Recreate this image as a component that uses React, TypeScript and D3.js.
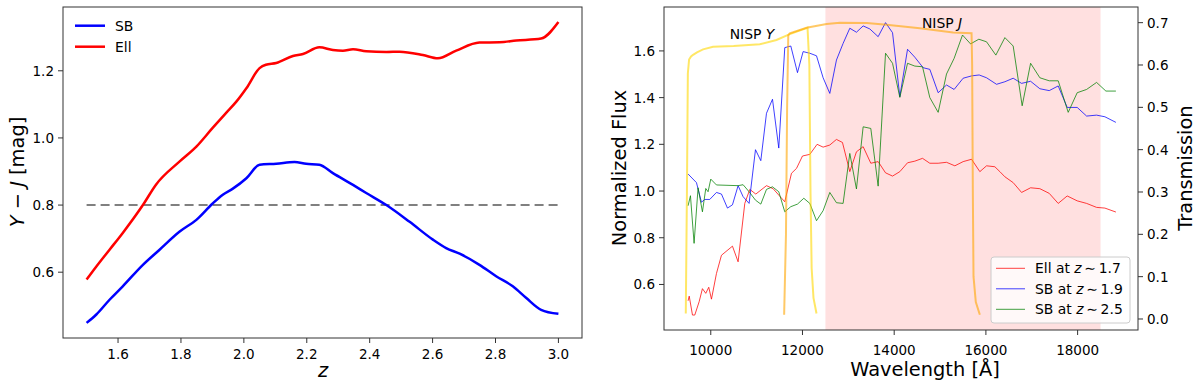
import React from 'react'
import * as d3 from 'd3'

// left panel: Y-J colour vs redshift
const zEll = [1.5, 1.531, 1.573, 1.615, 1.679, 1.72, 1.796, 1.849, 1.9, 1.943, 1.976, 2.008, 2.05, 2.07, 2.103, 2.156, 2.188, 2.24, 2.283, 2.315, 2.347, 2.389, 2.453, 2.495, 2.569, 2.617, 2.675, 2.749, 2.813, 2.866, 2.945, 3.0]
const yjEll = [0.578, 0.617, 0.667, 0.717, 0.8, 0.86, 0.93, 0.974, 1.029, 1.074, 1.108, 1.148, 1.208, 1.218, 1.223, 1.244, 1.25, 1.27, 1.262, 1.26, 1.264, 1.258, 1.256, 1.257, 1.247, 1.237, 1.26, 1.284, 1.285, 1.29, 1.296, 1.345]
const zSB = [1.5, 1.531, 1.573, 1.615, 1.679, 1.732, 1.796, 1.849, 1.9, 1.933, 1.965, 2.008, 2.05, 2.103, 2.161, 2.198, 2.24, 2.283, 2.347, 2.389, 2.453, 2.527, 2.601, 2.643, 2.686, 2.749, 2.802, 2.855, 2.898, 2.945, 3.0]
const yjSB = [0.449, 0.474, 0.518, 0.558, 0.622, 0.667, 0.721, 0.756, 0.804, 0.831, 0.849, 0.88, 0.92, 0.923, 0.928, 0.923, 0.92, 0.895, 0.86, 0.836, 0.8, 0.75, 0.697, 0.672, 0.655, 0.622, 0.588, 0.558, 0.523, 0.488, 0.476]
const cutZ = [1.5, 3.0]
const cutValue = 0.8
const zTicks = [1.6, 1.8, 2.0, 2.2, 2.4, 2.6, 2.8, 3.0]
const yjTicks = [0.6, 0.8, 1.0, 1.2]

// right panel: spectra
const wlEll = [9505, 9530, 9601, 9651, 9746, 9818, 9891, 9956, 10015, 10124, 10233, 10473, 10596, 10742, 10851, 10982, 11215, 11359, 11614, 11760, 11870, 12000, 12160, 12319, 12450, 12596, 12741, 12872, 13032, 13177, 13323, 13490, 13650, 13811, 13964, 14123, 14291, 14450, 14618, 14777, 14959, 15141, 15323, 15504, 15687, 15868, 16014, 16195, 16305, 16414, 16595, 16778, 16975, 17177, 17381, 17577, 17773, 17991, 18196, 18414, 18595, 18835]
const fluxEll = [0.53, 0.55, 0.469, 0.469, 0.526, 0.582, 0.562, 0.588, 0.537, 0.647, 0.725, 0.764, 0.697, 0.947, 1.007, 0.987, 1.023, 1.01, 0.954, 1.076, 1.097, 1.15, 1.157, 1.2, 1.188, 1.197, 1.221, 1.208, 1.083, 1.168, 1.19, 1.119, 1.126, 1.078, 1.064, 1.083, 1.121, 1.128, 1.14, 1.119, 1.119, 1.123, 1.108, 1.126, 1.136, 1.083, 1.108, 1.104, 1.083, 1.061, 1.036, 0.994, 1.014, 1.01, 0.99, 0.947, 0.979, 0.958, 0.947, 0.93, 0.927, 0.91]
const wlSB19 = [9505, 9688, 9797, 9869, 9978, 10124, 10233, 10364, 10473, 10596, 10705, 10836, 10975, 11091, 11215, 11346, 11483, 11614, 11745, 11891, 12014, 12160, 12306, 12450, 12596, 12741, 12886, 13032, 13177, 13323, 13469, 13650, 13811, 13964, 14123, 14291, 14450, 14632, 14777, 14959, 15141, 15307, 15504, 15687, 15853, 16014, 16232, 16414, 16595, 16778, 16975, 17177, 17381, 17577, 17773, 17991, 18196, 18414, 18595, 18835]
const fluxSB19 = [1.073, 1.036, 0.952, 0.964, 0.964, 0.994, 0.987, 0.927, 0.941, 1.023, 0.976, 0.947, 1.177, 1.13, 1.333, 1.393, 1.184, 1.614, 1.621, 1.507, 1.597, 1.59, 1.579, 1.485, 1.418, 1.561, 1.632, 1.697, 1.68, 1.707, 1.694, 1.661, 1.721, 1.678, 1.404, 1.607, 1.573, 1.528, 1.521, 1.421, 1.454, 1.435, 1.483, 1.493, 1.497, 1.485, 1.457, 1.468, 1.483, 1.461, 1.47, 1.438, 1.43, 1.45, 1.358, 1.358, 1.321, 1.325, 1.318, 1.294]
const wlSB25 = [9505, 9557, 9636, 9723, 9818, 9891, 9941, 10000, 10124, 10596, 10705, 10836, 10975, 11091, 11215, 11346, 11483, 11614, 11745, 11891, 12029, 12160, 12306, 12450, 12596, 12741, 12886, 13032, 13177, 13323, 13490, 13650, 13811, 13964, 14123, 14291, 14450, 14618, 14777, 14959, 15141, 15307, 15490, 15665, 15846, 16014, 16217, 16414, 16595, 16791, 16975, 17177, 17381, 17577, 17795, 17991, 18196, 18414, 18617, 18835]
const fluxSB25 = [0.937, 0.98, 0.776, 1.014, 0.911, 1.011, 0.997, 1.051, 1.026, 1.023, 1.027, 0.997, 0.961, 0.944, 1.007, 1.018, 0.997, 0.911, 0.933, 0.944, 0.969, 0.947, 0.873, 0.916, 0.994, 0.95, 0.947, 1.161, 1.009, 1.275, 1.268, 1.021, 1.59, 1.547, 1.401, 1.547, 1.535, 1.532, 1.4, 1.337, 1.501, 1.568, 1.668, 1.63, 1.65, 1.639, 1.582, 1.657, 1.621, 1.365, 1.547, 1.485, 1.472, 1.472, 1.337, 1.421, 1.435, 1.465, 1.428, 1.428]

// NISP filter transmissions
const wlY = [9455, 9480, 9500, 9527, 9570, 9614, 9700, 9832, 10050, 10500, 11069, 11433, 11723, 12088, 12110, 12150, 12175, 12200, 12240, 12306]
const trY = [0.013, 0.3, 0.58, 0.613, 0.62, 0.624, 0.63, 0.637, 0.643, 0.645, 0.649, 0.659, 0.673, 0.687, 0.688, 0.6, 0.3, 0.12, 0.05, 0.013]
const wlJ = [11600, 11640, 11665, 11690, 11723, 12088, 12524, 12814, 13400, 13833, 14559, 15286, 15687, 15700, 15715, 15730, 15780, 15868]
const trJ = [0.01, 0.2, 0.5, 0.67, 0.675, 0.688, 0.697, 0.7, 0.699, 0.695, 0.687, 0.677, 0.675, 0.6, 0.3, 0.1, 0.04, 0.01]
const bandJ = [12500, 18500]
const wlTicks = [10000, 12000, 14000, 16000, 18000]
const fluxTicks = [0.6, 0.8, 1.0, 1.2, 1.4, 1.6]
const trTicks = [0, 0.1, 0.2, 0.3, 0.4, 0.5, 0.6, 0.7]

const FONT = 'DejaVu Sans, sans-serif'

export default function App() {
  // left axes
  const xz = d3.scaleLinear().domain([1.425, 3.075]).range([63, 582])
  const yc = d3.scaleLinear().domain([0.404, 1.39]).range([338, 7])
  // right axes (twin y)
  const xw = d3.scaleLinear().domain([8980, 19317]).range([664, 1138])
  const yf = d3.scaleLinear().domain([0.405, 1.788]).range([330, 7])
  const yt = d3.scaleLinear().domain([-0.026, 0.737]).range([330, 7])

  const smooth = d3.line<number>().curve(d3.curveMonotoneX)
  const lineZ = (zs: number[], vs: number[]) =>
    smooth.x((_, i) => xz(zs[i])).y((_, i) => yc(vs[i]))(vs) || ''
  const lineF = (ws: number[], vs: number[]) =>
    d3.line<number>().x((_, i) => xw(ws[i])).y((_, i) => yf(vs[i]))(vs) || ''
  const lineT = (ws: number[], vs: number[]) =>
    d3.line<number>().x((_, i) => xw(ws[i])).y((_, i) => yt(vs[i]))(vs) || ''

  const tickFmt1 = d3.format('.1f')

  return (
    <svg width={1200} height={382} style={{ position: 'fixed', left: 0, top: 0, fontFamily: FONT }}>
      <defs>
        <clipPath id="clipR">
          <rect x={664} y={7} width={474} height={323} />
        </clipPath>
      </defs>
      <rect width={1200} height={382} fill="white" />

      {/* ---------- left panel ---------- */}
      <line x1={xz(cutZ[0])} x2={xz(cutZ[1])} y1={yc(cutValue)} y2={yc(cutValue)}
        stroke="#808080" strokeWidth={2} strokeDasharray="9,5" />
      <path d={lineZ(zSB, yjSB)} fill="none" stroke="blue" strokeWidth={2.5} />
      <path d={lineZ(zEll, yjEll)} fill="none" stroke="red" strokeWidth={2.5} />
      <rect x={63} y={7} width={519} height={331} fill="none" stroke="#333" strokeWidth={1} />
      {zTicks.map(t => (
        <g key={'zx' + t}>
          <line x1={xz(t)} x2={xz(t)} y1={338} y2={343} stroke="#333" />
          <text x={xz(t)} y={359} textAnchor="middle" fontSize={13.5}>{tickFmt1(t)}</text>
        </g>
      ))}
      {yjTicks.map(t => (
        <g key={'zy' + t}>
          <line x1={58} x2={63} y1={yc(t)} y2={yc(t)} stroke="#333" />
          <text x={54} y={yc(t) + 5} textAnchor="end" fontSize={13.5}>{tickFmt1(t)}</text>
        </g>
      ))}
      <text x={323} y={377} textAnchor="middle" fontSize={19.4} fontStyle="italic">z</text>
      <text transform="translate(24,172) rotate(-90)" textAnchor="middle" fontSize={19.4}>
        <tspan fontStyle="italic">Y</tspan> − <tspan fontStyle="italic">J</tspan> [mag]
      </text>
      {/* left legend, no frame */}
      <line x1={75} x2={105} y1={25.7} y2={25.7} stroke="blue" strokeWidth={2.5} />
      <text x={115} y={30.5} fontSize={13.9}>SB</text>
      <line x1={75} x2={105} y1={46.7} y2={46.7} stroke="red" strokeWidth={2.5} />
      <text x={115} y={51.5} fontSize={13.9}>Ell</text>

      {/* ---------- right panel ---------- */}
      <rect x={xw(bandJ[0])} y={7} width={xw(bandJ[1]) - xw(bandJ[0])} height={323} fill="#ffe0e0" />
      <g clipPath="url(#clipR)" fill="none" strokeWidth={1} strokeOpacity={0.75}>
        <path d={lineF(wlEll, fluxEll)} stroke="red" />
        <path d={lineF(wlSB19, fluxSB19)} stroke="blue" />
        <path d={lineF(wlSB25, fluxSB25)} stroke="green" />
      </g>
      <g clipPath="url(#clipR)" fill="none" strokeWidth={2}>
        <path d={lineT(wlY, trY)} stroke="#ffd700" strokeOpacity={0.6} />
        <path d={lineT(wlJ, trJ)} stroke="#ffa500" strokeOpacity={0.6} />
      </g>
      <text x={752} y={39} textAnchor="middle" fontSize={13.9}>
        NISP <tspan fontStyle="italic">Y</tspan>
      </text>
      <text x={942} y={28} textAnchor="middle" fontSize={13.9}>
        NISP <tspan fontStyle="italic">J</tspan>
      </text>
      <rect x={664} y={7} width={474} height={323} fill="none" stroke="#333" strokeWidth={1} />
      {wlTicks.map(t => (
        <g key={'wx' + t}>
          <line x1={xw(t)} x2={xw(t)} y1={330} y2={335} stroke="#333" />
          <text x={xw(t)} y={355} textAnchor="middle" fontSize={13.5}>{t}</text>
        </g>
      ))}
      {fluxTicks.map(t => (
        <g key={'fy' + t}>
          <line x1={659} x2={664} y1={yf(t)} y2={yf(t)} stroke="#333" />
          <text x={655} y={yf(t) + 5} textAnchor="end" fontSize={13.5}>{tickFmt1(t)}</text>
        </g>
      ))}
      {trTicks.map(t => (
        <g key={'ty' + t}>
          <line x1={1138} x2={1143} y1={yt(t)} y2={yt(t)} stroke="#333" />
          <text x={1147} y={yt(t) + 5} textAnchor="start" fontSize={13.5}>{tickFmt1(t)}</text>
        </g>
      ))}
      <text x={925} y={376} textAnchor="middle" fontSize={19.4}>Wavelength [Å]</text>
      <text transform="translate(626,168) rotate(-90)" textAnchor="middle" fontSize={19.4}>Normalized Flux</text>
      <text transform="translate(1192,168) rotate(-90)" textAnchor="middle" fontSize={19.4}>Transmission</text>

      {/* right legend */}
      <rect x={991} y={257} width={139} height={66} rx={3} fill="white" fillOpacity={0.8} stroke="#ccc" />
      {[
        { c: 'red', a: 'Ell at ', b: '1.7' },
        { c: 'blue', a: 'SB at ', b: '1.9' },
        { c: 'green', a: 'SB at ', b: '2.5' },
      ].map((e, i) => {
        const yy = 268.3 + i * 20.5
        return (
          <g key={'lg' + i}>
            <line x1={996} x2={1025} y1={yy} y2={yy} stroke={e.c} strokeOpacity={0.75} strokeWidth={1} />
            <text x={1035} y={yy + 5} fontSize={13.9}>
              {e.a}<tspan fontStyle="italic">z</tspan>{'\u2009∼\u2009' + e.b}
            </text>
          </g>
        )
      })}
    </svg>
  )
}
